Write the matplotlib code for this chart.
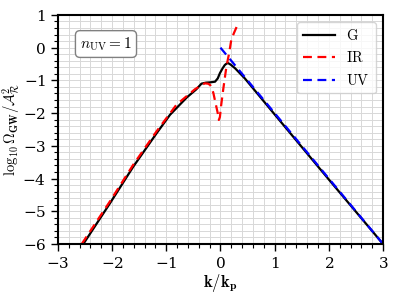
import matplotlib
matplotlib.use('Agg')
import matplotlib.pyplot as plt
from matplotlib.ticker import MultipleLocator

# data
g_x = [-2.53, -2.04, -1.61, -1.18, -0.93, -0.62, -0.45, -0.35, -0.27, -0.19, -0.10,
       -0.05, -0.01, 0.04, 0.08, 0.11, 0.14, 0.19, 0.27, 0.45, 1.00, 2.00, 3.00]
g_y = [-6.0, -4.76, -3.64, -2.62, -2.05, -1.52, -1.28, -1.10, -1.07, -1.06, -1.04,
       -0.94, -0.78, -0.63, -0.53, -0.49, -0.47, -0.52, -0.63, -0.94, -2.04, -4.03, -6.0]

ir_x = [-2.56, -2.04, -1.61, -1.18, -0.81, -0.47, -0.29, -0.23, -0.19, -0.16, -0.13,
        -0.09, -0.05, -0.03, -0.01, 0.01, 0.05, 0.11, 0.16, 0.20, 0.25, 0.30]
ir_y = [-6.0, -4.70, -3.58, -2.56, -1.74, -1.27, -1.09, -1.10, -1.14, -1.24, -1.39,
        -1.70, -2.00, -2.21, -2.12, -1.80, -1.29, -0.58, -0.17, 0.24, 0.45, 0.64]

uv_x = [0.0, 3.0]
uv_y = [0.0, -6.0]

plt.rcParams['mathtext.fontset'] = 'cm'
plt.rcParams['font.family'] = 'serif'
plt.rcParams['font.serif'] = ['DejaVu Serif']
plt.rcParams['axes.formatter.use_mathtext'] = True

fig = plt.figure(figsize=(3.99, 2.99), dpi=100)
ax = fig.add_axes([0.145, 0.184, 0.815, 0.766])

ax.plot(g_x, g_y, color='black', lw=1.6, label=r'$\mathrm{G}$')
ax.plot(ir_x, ir_y, color='red', lw=1.6, ls='--', dashes=(4, 2.5), label=r'$\mathrm{IR}$')
ax.plot(uv_x, uv_y, color='blue', lw=1.6, ls='--', dashes=(4, 2.5), label=r'$\mathrm{UV}$')

ax.set_xlim(-3, 3)
ax.set_ylim(-6, 1)
ax.xaxis.set_major_locator(MultipleLocator(1))
ax.xaxis.set_minor_locator(MultipleLocator(0.2))
ax.yaxis.set_major_locator(MultipleLocator(1))
ax.yaxis.set_minor_locator(MultipleLocator(0.2))
ax.grid(which='both', color='#d8d8d8', lw=0.7)
ax.set_axisbelow(True)
ax.tick_params(which='major', length=5, width=1, labelsize=11)
ax.tick_params(which='minor', length=3, width=0.8)
for s in ax.spines.values():
    s.set_linewidth(1.5)

ax.set_xlabel(r'$\mathbf{k/k_p}$', fontsize=12, labelpad=1)
ax.set_ylabel(r'$\mathbf{\log_{10}\Omega_{GW}}/\mathcal{A}^2_\mathcal{R}$', fontsize=10.5)
ax.yaxis.set_label_coords(-0.108, 0.5)

ax.text(0.148, 0.873, r'$n_{\rm UV}=1$', transform=ax.transAxes, fontsize=11,
        ha='center', va='center',
        bbox=dict(boxstyle='round,pad=0.3', fc='white', ec='gray'))

ax.legend(loc='upper right', fontsize=10.5, framealpha=0.8, handlelength=2.2)

fig.savefig('out.png', dpi=100)
